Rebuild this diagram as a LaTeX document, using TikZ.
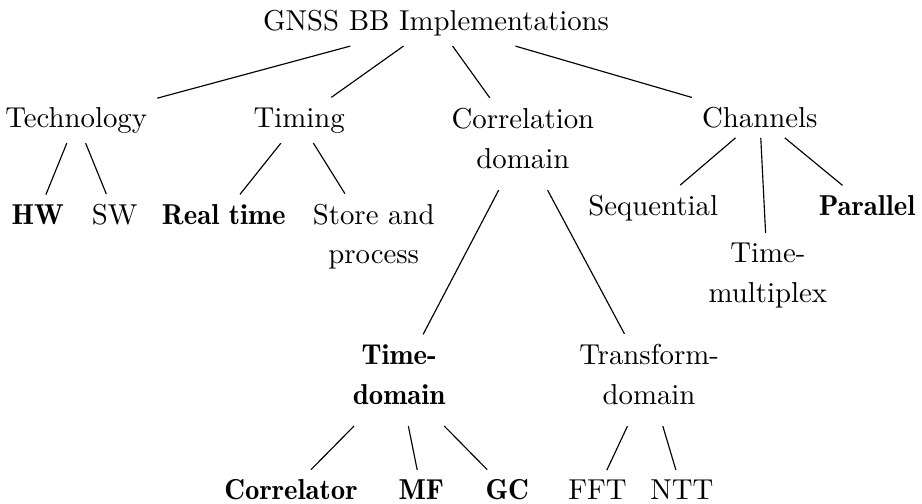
\documentclass[tikz,border=0pt]{standalone}
\usepackage{tikz}
\linespread{1.15}
\tikzset{
    tnode/.style = {align=center, anchor=base},
    tnodeb/.style = {align=center, anchor=base, font=\fontseries{b}\selectfont},
    mline/.style = {execute at begin node=\strut, execute at end node=\strut}, % two lines
    edgen/.style = {draw=black},
}

\begin{document}
\begin{tikzpicture}[scale=1.00,transform shape]
\useasboundingbox (0,0) rectangle (11.25,6.14);
%
\node[tnode] at (5.32, 5.77) (gnss) {GNSS BB Implementations};
%
\node[tnode] at (0.93, 4.59) (tech) {Technology};
\node[tnode] at (3.65, 4.59) (timing) {Timing};
\node[tnode, mline] at (6.38, 4.09) (corr) {Correlation\\domain};
\node[tnode] at (9.27, 4.59) (chan) {Channels};
%
\node[tnodeb] at (0.46, 3.40) (hw) {HW};
\node[tnode] at (1.40, 3.40) (sw) {SW};
\node[tnodeb] at (2.73, 3.40) (rt) {Real time};
\node[tnode, mline] at (4.56, 2.92) (sp) {Store and\\process};
\node[tnode] at (7.97, 3.51) (seq) {Sequential};
\node[tnode, mline] at (9.37, 2.45) (tmux) {Time-\\multiplex};
\node[tnodeb] at (10.58, 3.51) (par) {Parallel};
%
\node[tnodeb, mline] at (4.87, 1.21) (tdom) {Time-\\domain};
\node[tnode, mline] at (7.92, 1.21) (fdom) {Transform-\\domain};
%
\node[tnodeb] at (3.55, 0.04) (corrl) {Correlator};
\node[tnodeb] at (5.14, 0.04) (mf) {MF};
\node[tnodeb] at (6.19, 0.04) (gc) {GC};
\node[tnode] at (7.29, 0.04) (fft) {FFT};
\node[tnode] at (8.32, 0.04) (ntt) {NTT};
%
\draw[edgen] (gnss) -- (tech);
\draw[edgen] (gnss) -- (timing);
\draw[edgen] (gnss) -- (corr);
\draw[edgen] (gnss) -- (chan);
\draw[edgen] (tech) -- (hw);
\draw[edgen] (tech) -- (sw);
\draw[edgen] (timing) -- (rt);
\draw[edgen] (timing) -- (sp);
\draw[edgen] (corr) -- (tdom);
\draw[edgen] (corr) -- (fdom);
\draw[edgen] (chan) -- (seq);
\draw[edgen] (chan) -- (tmux);
\draw[edgen] (chan) -- (par);
\draw[edgen] (tdom) -- (corrl);
\draw[edgen] (tdom) -- (mf);
\draw[edgen] (tdom) -- (gc);
\draw[edgen] (fdom) -- (fft);
\draw[edgen] (fdom) -- (ntt);

\end{tikzpicture}
\end{document}
